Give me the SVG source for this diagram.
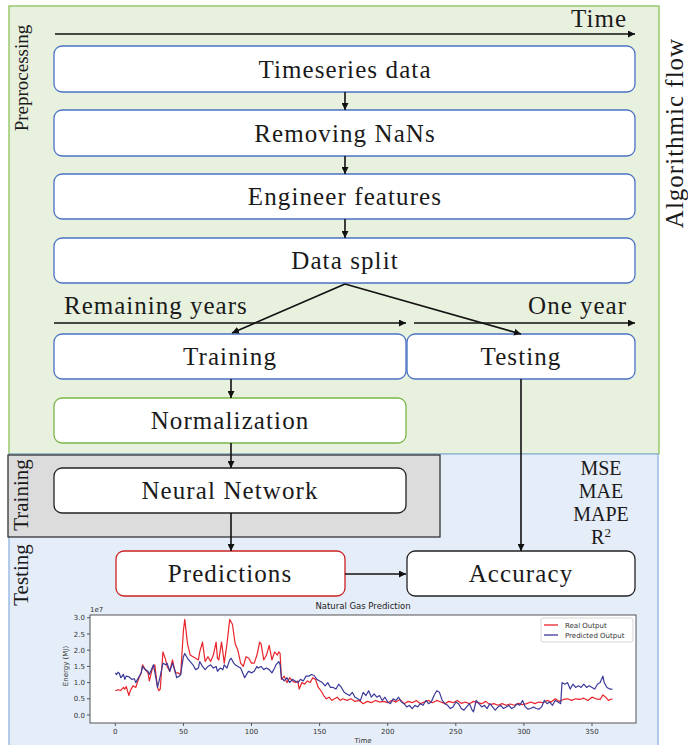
<svg xmlns="http://www.w3.org/2000/svg" width="688" height="745" viewBox="0 0 688 745">
<style>
.t{font-family:"Liberation Serif","Times New Roman",serif;font-size:25px;letter-spacing:1.1px;fill:#1a1a1a;text-anchor:middle}
.lab{font-family:"Liberation Serif","Times New Roman",serif;font-size:21px;fill:#1a1a1a}
.big{font-size:25px;letter-spacing:1px}
.box{fill:#fff;stroke-width:1.3}
.bl{stroke:#4a72c4}
.gr{stroke:#7ab648}
.rd{stroke:#cc2222}
.bk{stroke:#222}
.conn{stroke:#111;stroke-width:1.6;fill:none}
.ax{font-family:"DejaVu Sans",sans-serif;font-size:7px;fill:#333}
.met{font-family:"Liberation Serif","Times New Roman",serif;font-size:20px;fill:#1a1a1a;text-anchor:middle}
</style>
<defs>
<marker id="ah" viewBox="0 0 10 10" refX="10" refY="5" markerWidth="7" markerHeight="7" markerUnits="userSpaceOnUse" orient="auto"><path d="M0,0 L10,5 L0,10 z" fill="#111"/></marker>
</defs>

<!-- panels -->
<rect x="9" y="6" width="650" height="448" fill="#e8f0de" stroke="#8dc05a" stroke-width="1.3"/>
<rect x="9" y="454" width="649" height="295" fill="#e5edf8" stroke="#8fb3e0" stroke-width="1.3"/>
<rect x="8" y="455" width="432" height="82" fill="#dcdcdc" stroke="#333" stroke-width="1.3"/>

<text class="lab" style="font-size:19px" transform="translate(28,78) rotate(-90)" text-anchor="middle">Preprocessing</text>
<text class="lab" transform="translate(28,495) rotate(-90)" text-anchor="middle">Training</text>
<text class="lab" transform="translate(28,575) rotate(-90)" text-anchor="middle">Testing</text>
<text class="lab big" transform="translate(683,133) rotate(-90)" text-anchor="middle">Algorithmic flow</text>

<!-- time axes -->
<g id="time-axes">
<line class="conn" x1="55" y1="34" x2="635" y2="34" stroke-width="2" marker-end="url(#ah)"/>
<text class="lab big" x="627" y="27" text-anchor="end">Time</text>
<line class="conn" x1="54" y1="323" x2="406" y2="323" stroke-width="2" marker-end="url(#ah)"/>
<text class="lab big" x="64" y="314">Remaining years</text>
<line class="conn" x1="414" y1="323" x2="635" y2="323" stroke-width="2" marker-end="url(#ah)"/>
<text class="lab big" x="627" y="314" text-anchor="end">One year</text>
</g>

<!-- nodes -->
<g id="timeseries"><rect class="box bl" x="54" y="46" width="581" height="46" rx="8"/><text class="t" x="345" y="78">Timeseries data</text></g>
<g id="nans"><rect class="box bl" x="54" y="110" width="581" height="46" rx="8"/><text class="t" x="345" y="142">Removing NaNs</text></g>
<g id="features"><rect class="box bl" x="54" y="174" width="581" height="45" rx="8"/><text class="t" x="345" y="205">Engineer features</text></g>
<g id="split"><rect class="box bl" x="54" y="238" width="581" height="45" rx="8"/><text class="t" x="345" y="269">Data split</text></g>
<g id="training"><rect class="box bl" x="54" y="334" width="352" height="45" rx="8"/><text class="t" x="230" y="365">Training</text></g>
<g id="testing"><rect class="box bl" x="407" y="334" width="228" height="45" rx="8"/><text class="t" x="521" y="365">Testing</text></g>
<g id="normalization"><rect class="box gr" x="54" y="398" width="352" height="45" rx="8"/><text class="t" x="230" y="429">Normalization</text></g>
<g id="neural-network"><rect class="box bk" x="54" y="468" width="352" height="45" rx="8"/><text class="t" x="230" y="499">Neural Network</text></g>
<g id="predictions"><rect class="box rd" x="116" y="551" width="229" height="45" rx="8"/><text class="t" x="230" y="582">Predictions</text></g>
<g id="accuracy"><rect class="box bk" x="407" y="551" width="228" height="45" rx="8"/><text class="t" x="521" y="582">Accuracy</text></g>
<g id="metrics">
<text class="met" x="601" y="475">MSE</text>
<text class="met" x="601" y="498">MAE</text>
<text class="met" x="601" y="521">MAPE</text>
<text class="met" x="601" y="544">R<tspan dy="-7" style="font-size:13px">2</tspan></text>
</g>

<!-- connectors -->
<g id="connectors">
<line class="conn" x1="345" y1="92" x2="345" y2="110" marker-end="url(#ah)"/>
<line class="conn" x1="345" y1="156" x2="345" y2="174" marker-end="url(#ah)"/>
<line class="conn" x1="345" y1="219" x2="345" y2="238" marker-end="url(#ah)"/>
<line class="conn" x1="345" y1="284" x2="232" y2="333" marker-end="url(#ah)"/>
<line class="conn" x1="345" y1="284" x2="521" y2="334" marker-end="url(#ah)"/>
<line class="conn" x1="231" y1="379" x2="231" y2="398" marker-end="url(#ah)"/>
<line class="conn" x1="231" y1="443" x2="231" y2="468" marker-end="url(#ah)"/>
<line class="conn" x1="231" y1="513" x2="231" y2="551" marker-end="url(#ah)"/>
<line class="conn" x1="521" y1="379" x2="521" y2="551" marker-end="url(#ah)"/>
<line class="conn" x1="345" y1="574" x2="406" y2="574" marker-end="url(#ah)"/>
</g>

<!-- chart -->
<g id="chart">
<text x="363" y="609" style="font-family:'DejaVu Sans',sans-serif;font-size:8.5px;fill:#222" text-anchor="middle">Natural Gas Prediction</text>
<rect x="90" y="615" width="546" height="108" fill="#fff" stroke="#555" stroke-width="1"/>
<text class="ax" x="90" y="612">1e7</text>
<g stroke="#555" stroke-width="1">
<line x1="87" y1="715" x2="90" y2="715"/><line x1="87" y1="698.8" x2="90" y2="698.8"/><line x1="87" y1="682.6" x2="90" y2="682.6"/><line x1="87" y1="666.4" x2="90" y2="666.4"/><line x1="87" y1="650.2" x2="90" y2="650.2"/><line x1="87" y1="634" x2="90" y2="634"/><line x1="87" y1="617.8" x2="90" y2="617.8"/>
<line x1="115.3" y1="723" x2="115.3" y2="726"/><line x1="183.4" y1="723" x2="183.4" y2="726"/><line x1="251.5" y1="723" x2="251.5" y2="726"/><line x1="319.6" y1="723" x2="319.6" y2="726"/><line x1="387.7" y1="723" x2="387.7" y2="726"/><line x1="455.8" y1="723" x2="455.8" y2="726"/><line x1="523.9" y1="723" x2="523.9" y2="726"/><line x1="592" y1="723" x2="592" y2="726"/>
</g>
<g class="ax" text-anchor="end">
<text x="85" y="717.5">0.0</text><text x="85" y="701.3">0.5</text><text x="85" y="685.1">1.0</text><text x="85" y="668.9">1.5</text><text x="85" y="652.7">2.0</text><text x="85" y="636.5">2.5</text><text x="85" y="620.3">3.0</text>
</g>
<g class="ax" text-anchor="middle">
<text x="115.3" y="734">0</text><text x="183.4" y="734">50</text><text x="251.5" y="734">100</text><text x="319.6" y="734">150</text><text x="387.7" y="734">200</text><text x="455.8" y="734">250</text><text x="523.9" y="734">300</text><text x="592" y="734">350</text>
<text x="363" y="743">Time</text>
<text transform="translate(68,666) rotate(-90)">Energy (MJ)</text>
</g>
<g transform="translate(115.3,715) scale(1.362,-32.4)" fill="none" stroke-width="1.2" stroke-linejoin="round">
<polyline vector-effect="non-scaling-stroke" stroke="#e8242a" points="0,0.75 2,0.78 4,0.76 6,0.85 7,0.8 8,0.88 10,0.6 11,0.75 13,0.9 15,0.85 17,1.1 19,1.3 20,1.55 22,1.4 24,1.3 25,1.05 27,1.4 29,1.55 31,0.85 32,0.75 33,0.8 35,1.95 37,1.7 38,1.5 40,1.35 42,1.7 44,1.3 46,1.3 48,1.25 50,2.6 51,2.95 53,2.2 55,1.85 57,1.8 59,1.75 61,1.7 62,1.95 64,2.25 66,1.65 68,1.8 70,1.65 72,1.85 74,2.25 75,1.75 76,1.7 78,2.25 80,1.6 82,2.2 84,2.95 86,2.8 88,2.2 90,2.0 92,1.6 94,1.5 96,1.8 98,1.75 100,1.6 102,1.6 104,1.85 106,2.25 107,2.2 109,1.7 111,1.85 113,2.15 115,1.7 117,1.95 119,1.85 120,1.95 121,1.9 122,1.1 124,1.2 126,1.0 128,1.15 130,1.05 132,1.0 134,1.05 135,0.8 137,1.0 139,0.95 141,1.05 143,1.0 145,1.15 147,1.1 149,0.85 151,0.75 153,0.6 155,0.5 157,0.55 159,0.45 161,0.5 163,0.55 165,0.45 167,0.5 170,0.45 173,0.5 176,0.42 179,0.45 182,0.35 185,0.42 188,0.38 191,0.45 194,0.4 197,0.42 200,0.38 203,0.45 206,0.4 209,0.48 212,0.35 215,0.42 218,0.38 221,0.45 224,0.35 227,0.4 230,0.45 233,0.38 236,0.45 239,0.4 242,0.35 245,0.42 248,0.38 251,0.45 254,0.36 257,0.4 260,0.35 263,0.42 266,0.38 269,0.35 272,0.42 275,0.32 278,0.35 281,0.3 284,0.35 287,0.3 290,0.34 293,0.3 296,0.36 299,0.32 302,0.35 305,0.4 308,0.35 311,0.4 314,0.38 317,0.45 320,0.4 323,0.5 326,0.42 329,0.48 332,0.5 335,0.45 338,0.5 341,0.48 344,0.52 347,0.45 350,0.55 353,0.5 356,0.48 358,0.62 360,0.55 362,0.45 365,0.5"/>
<polyline vector-effect="non-scaling-stroke" stroke="#3a3a9a" points="0,1.3 1,1.25 2,1.32 3,1.28 4,1.15 6,1.25 7,1.1 8,1.2 10,1.18 12,1.1 14,1.12 15,1.0 17,1.15 19,1.3 20,1.5 22,1.4 24,1.35 25,1.25 27,1.45 28,1.55 30,1.1 31,0.85 33,1.2 35,1.6 37,1.55 38,1.6 40,1.35 42,1.6 44,1.35 45,1.15 47,1.2 48,1.25 50,1.8 51,1.9 53,1.75 55,1.65 57,1.55 59,1.4 61,1.45 62,1.65 64,1.5 66,1.4 68,1.5 70,1.55 72,1.45 74,1.5 75,1.35 77,1.45 79,1.4 80,1.55 82,1.45 84,1.7 85,1.75 87,1.6 88,1.55 90,1.5 92,1.45 94,1.25 95,1.15 97,1.3 98,1.35 100,1.3 102,1.35 104,1.5 105,1.45 107,1.5 109,1.4 111,1.45 113,1.4 115,1.3 117,1.45 118,1.55 120,1.65 121,1.55 122,1.15 124,1.05 126,1.15 128,1.0 130,1.1 132,1.05 134,1.0 136,1.1 138,1.05 140,1.2 142,1.2 144,1.25 146,1.22 148,1.1 150,1.05 152,1.0 154,0.9 156,1.0 158,0.85 160,0.85 162,0.8 164,0.95 166,0.85 168,0.7 170,0.65 172,0.6 174,0.7 176,0.55 178,0.5 180,0.45 182,0.7 184,0.6 186,0.75 188,0.55 190,0.65 192,0.55 194,0.6 196,0.45 198,0.55 200,0.4 202,0.35 204,0.5 206,0.45 208,0.55 210,0.4 212,0.35 214,0.25 216,0.3 218,0.2 220,0.3 222,0.25 224,0.35 226,0.3 228,0.45 230,0.35 232,0.4 234,0.6 236,0.75 238,0.7 240,0.45 242,0.35 244,0.3 246,0.2 248,0.25 250,0.4 252,0.35 254,0.2 256,0.15 258,0.25 260,0.35 262,0.15 263,0.1 265,0.45 267,0.35 269,0.25 271,0.3 273,0.2 275,0.35 277,0.25 279,0.15 281,0.25 283,0.3 285,0.2 287,0.25 289,0.3 291,0.2 293,0.25 295,0.35 297,0.3 299,0.45 301,0.25 303,0.18 305,0.2 307,0.25 309,0.2 311,0.18 313,0.25 315,0.45 317,0.35 319,0.4 321,0.3 323,0.45 325,0.4 327,0.35 328,1.0 330,0.95 332,1.0 334,0.8 336,0.95 338,0.85 340,0.9 342,0.85 344,0.95 346,0.85 348,0.9 350,0.85 352,0.8 354,0.95 356,1.0 358,1.2 359,1.0 361,0.85 363,0.8 365,0.8"/>
</g>
<rect x="541" y="618" width="92" height="24" rx="2" fill="#fff" stroke="#ccc" stroke-width="0.8"/>
<line x1="544" y1="625" x2="558" y2="625" stroke="#e8242a" stroke-width="1.3"/>
<line x1="544" y1="635" x2="558" y2="635" stroke="#3a3a9a" stroke-width="1.3"/>
<text class="ax" x="565" y="627.5">Real Output</text>
<text class="ax" x="565" y="637.5">Predicted Output</text>
</g>
</svg>
